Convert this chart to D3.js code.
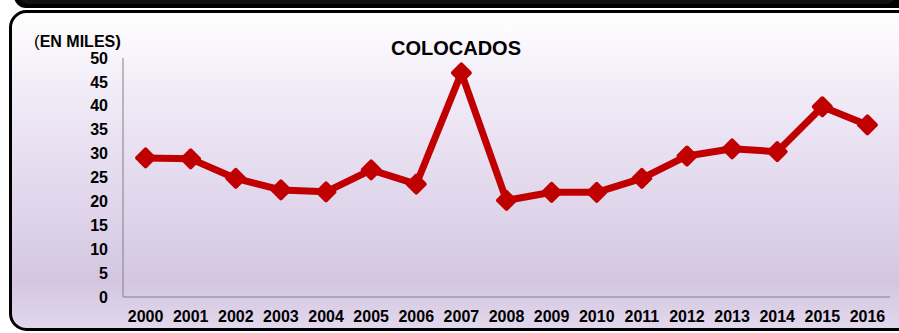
<!DOCTYPE html>
<html><head><meta charset="utf-8">
<script src="https://cdn.jsdelivr.net/npm/d3@7"></script>
<style>html,body{margin:0;padding:0;background:#fff;overflow:hidden}</style>
</head><body>
<svg id="c" width="899" height="333"></svg>
<script>
const years = ["2000","2001","2002","2003","2004","2005","2006","2007","2008","2009","2010","2011","2012","2013","2014","2015","2016"];
const colocados = [29.1, 28.9, 24.8, 22.4, 22.0, 26.6, 23.6, 46.9, 20.2, 21.9, 21.9, 24.8, 29.5, 31.0, 30.4, 39.8, 36.0];
const yTicks = [0, 5, 10, 15, 20, 25, 30, 35, 40, 45, 50];
const title = "COLOCADOS";
const unitLabel = "EN MILES";

const svg = d3.select("#c");
const defs = svg.append("defs");
const g1 = defs.append("linearGradient").attr("id","bg").attr("x1",0).attr("y1",0).attr("x2",0).attr("y2",1);
g1.append("stop").attr("offset","0%").attr("stop-color","#ffffff");
g1.append("stop").attr("offset","25%").attr("stop-color","#f1ebf7");
g1.append("stop").attr("offset","70%").attr("stop-color","#dcd0e8");
g1.append("stop").attr("offset","85%").attr("stop-color","#d4c6e1");
g1.append("stop").attr("offset","100%").attr("stop-color","#e2d8ec");

// previous panel bottom edge
svg.append("rect").attr("x",14).attr("y",-30).attr("width",900).attr("height",38)
  .attr("rx",12).attr("fill","#000");
svg.append("rect").attr("x",18).attr("y",-30).attr("width",878).attr("height",34)
  .attr("rx",10).attr("fill","#111");

// main panel
svg.append("rect").attr("x",10.5).attr("y",11.5).attr("width",920).attr("height",318)
  .attr("rx",16).attr("fill","url(#bg)").attr("stroke","#000").attr("stroke-width",3);

const margin = {left:123};
const x = d3.scaleBand().domain(years).range([margin.left, 890]).paddingInner(0).paddingOuter(0);
const y = d3.scaleLinear().domain([0,50]).range([297, 58]);

const font = "Liberation Sans, Arial, sans-serif";
// axes
const yAxis = d3.axisLeft(y).tickValues(yTicks).tickSize(0).tickPadding(15);
const gy = svg.append("g").attr("transform",`translate(${margin.left},0)`).call(yAxis);
gy.select(".domain").attr("stroke","#808080").attr("d",`M0,${y(50)}V${y(0)}`);
gy.selectAll("text").attr("font-family",font)
  .attr("font-weight","bold").attr("font-size","16px").attr("fill","#000");

const xAxis = d3.axisBottom(x).tickSize(0).tickPadding(14);
const gx = svg.append("g").attr("transform",`translate(0,${y(0)})`).call(xAxis);
gx.select(".domain").attr("stroke","#808080").attr("d",`M${margin.left},0H890`);
gx.selectAll("text").attr("font-family",font)
  .attr("font-weight","bold").attr("font-size","16px").attr("fill","#000");

// line
const line = d3.line().x((d,i)=>x(years[i])+x.bandwidth()/2).y(d=>y(d));
svg.append("path").datum(colocados).attr("d",line).attr("fill","none")
  .attr("stroke","#c00000").attr("stroke-width",7).attr("stroke-linejoin","round");

// markers
svg.selectAll(".mk").data(colocados).enter().append("rect").attr("class","mk")
  .attr("x",-8).attr("y",-8).attr("width",16).attr("height",16).attr("rx",2)
  .attr("fill","#c00000")
  .attr("transform",(d,i)=>`translate(${x(years[i])+x.bandwidth()/2},${y(d)}) rotate(45)`);

// title
svg.append("text").attr("x",456).attr("y",55).attr("text-anchor","middle")
  .attr("font-family",font).attr("font-weight","bold")
  .attr("font-size","20px").text(title);

const ul = svg.append("text").attr("x",34).attr("y",47)
  .attr("font-family",font).attr("font-size","16px");
ul.append("tspan").attr("font-size","17px").text("(");
ul.append("tspan").attr("font-weight","bold").text(unitLabel);
ul.append("tspan").attr("font-size","17px").attr("font-weight","bold").text(")");
</script>
</body></html>
